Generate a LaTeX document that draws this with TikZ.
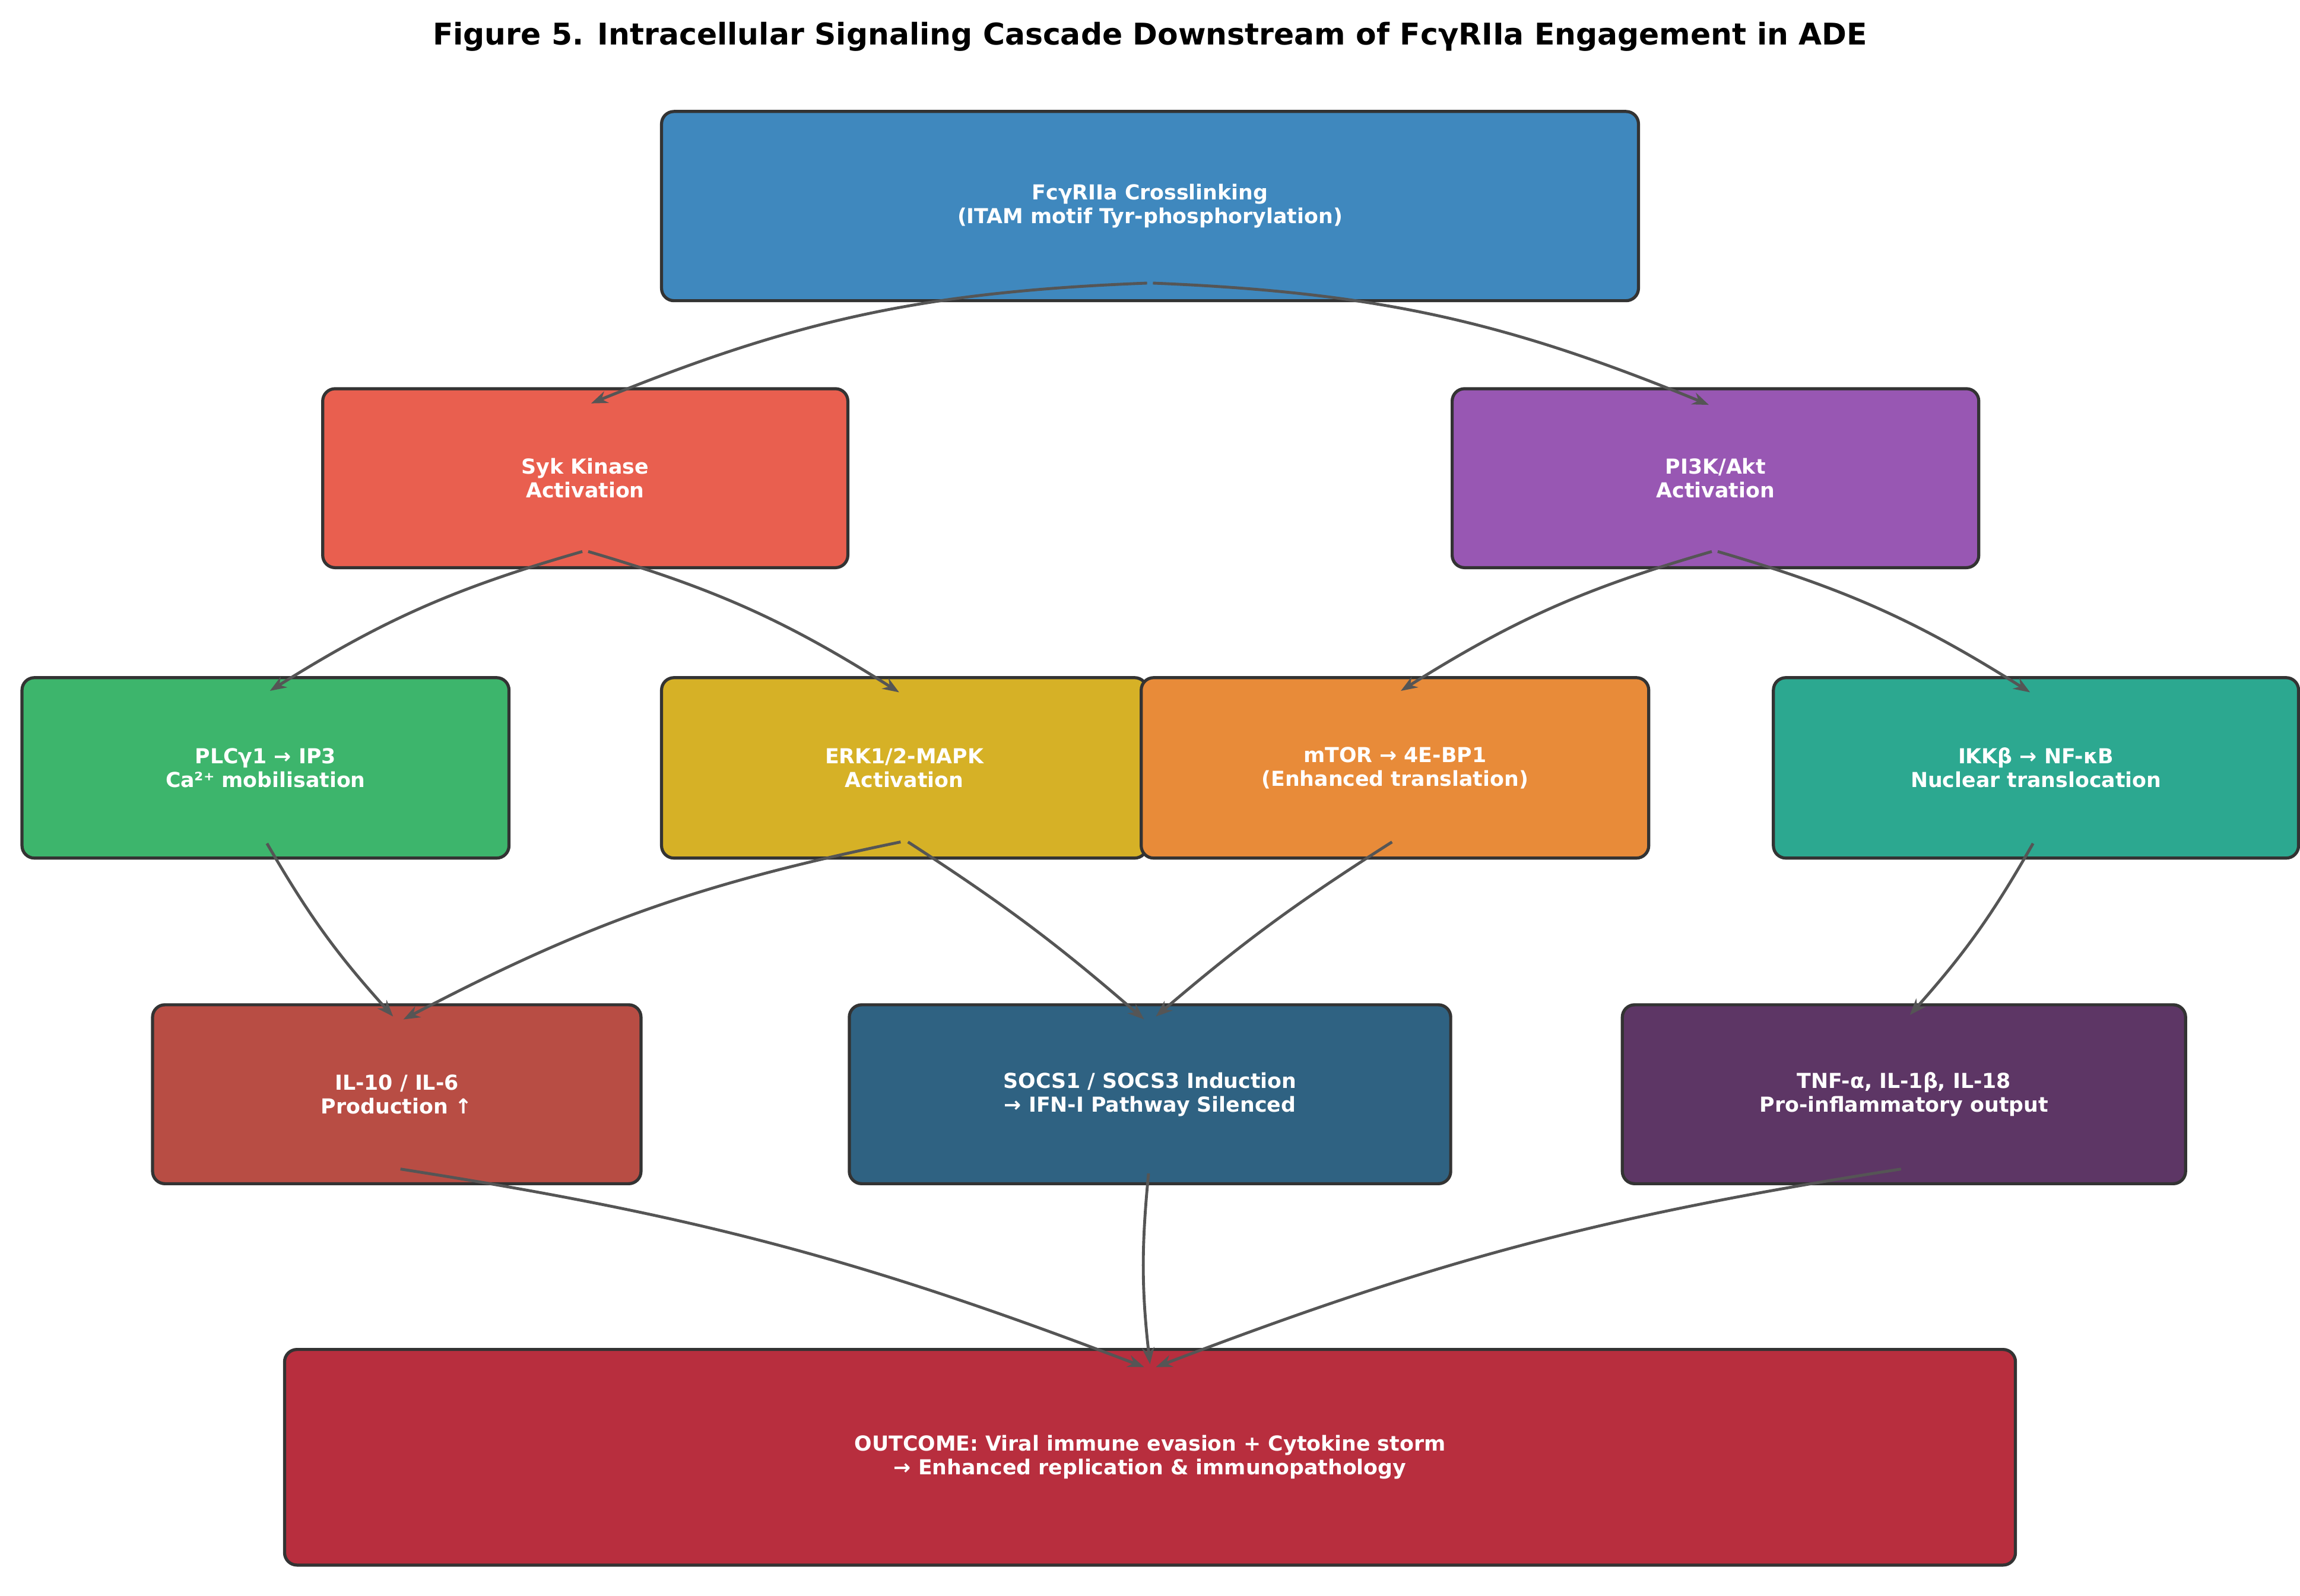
\documentclass[tikz,border=0pt]{standalone}
\usepackage{fontspec}
\setmainfont{DejaVu Sans}
\usetikzlibrary{arrows.meta}
\definecolor{cTop}{HTML}{3F88BE}\definecolor{cSyk}{HTML}{E95F4F}\definecolor{cPI}{HTML}{9857B3}
\definecolor{cPLC}{HTML}{3DB56C}\definecolor{cERK}{HTML}{D6B126}\definecolor{cMT}{HTML}{E88B39}
\definecolor{cIKK}{HTML}{2CA890}\definecolor{cIL}{HTML}{B84D44}\definecolor{cSO}{HTML}{2F6282}
\definecolor{cTNF}{HTML}{5D3665}\definecolor{cOut}{HTML}{B82E3E}\definecolor{bd}{HTML}{333333}
\definecolor{ar}{HTML}{555555}
\begin{document}
\begin{tikzpicture}[x=0.025cm,y=-0.025cm,
 box/.style={draw=bd,line width=1.5pt,rounded corners=6pt,text=white,align=center,
   font=\bfseries\fontsize{10}{11.5}\selectfont,inner sep=0pt},
 arr/.style={draw=ar,line width=1.4pt,-{Stealth[length=8pt,width=6pt]}}]
\useasboundingbox (0,0) rectangle (1568,1088);
\node[font=\bfseries\fontsize{14.5}{16}\selectfont] (title) at (784,25) {Figure 5. Intracellular Signaling Cascade Downstream of FcγRIIa Engagement in ADE};
\newcommand\bx[7]{\node[box,fill=#2,minimum width=#5*0.025cm,minimum height=#6*0.025cm] (#1) at (#3,#4) {#7};}
\bx{top}{cTop}{784}{140.5}{666}{129}{FcγRIIa Crosslinking\\(ITAM motif Tyr-phosphorylation)}
\bx{syk}{cSyk}{399}{326}{358}{122}{Syk Kinase\\Activation}
\bx{pi}{cPI}{1169.5}{326}{359}{122}{PI3K/Akt\\Activation}
\bx{plc}{cPLC}{181}{523.5}{332}{123}{PLCγ1 → IP3\\Ca²⁺ mobilisation}
\bx{erk}{cERK}{616.5}{523.5}{331}{123}{ERK1/2-MAPK\\Activation}
\bx{mt}{cMT}{951}{523.5}{346}{123}{mTOR → 4E-BP1\\(Enhanced translation)}
\bx{ikk}{cIKK}{1388}{523.5}{358}{123}{IKKβ → NF-κB\\Nuclear translocation}
\bx{il}{cIL}{270.5}{746}{333}{122}{IL-10 / IL-6\\Production ↑}
\bx{so}{cSO}{784}{746}{410}{122}{SOCS1 / SOCS3 Induction\\→ IFN-I Pathway Silenced}
\bx{tnf}{cTNF}{1298}{746}{384}{122}{TNF-α, IL-1β, IL-18\\Pro-inflammatory output}
\bx{out}{cOut}{784}{993.5}{1180}{147}{OUTCOME: Viral immune evasion + Cytokine storm\\→ Enhanced replication \& immunopathology}
\coordinate (a1) at (782,193); \coordinate (a2) at (786,193);
\coordinate (b1) at (397,376); \coordinate (b2) at (401,376);
\coordinate (c1) at (1167,376); \coordinate (c2) at (1171,376);
\coordinate (d1) at (182,575); \coordinate (e1) at (614,574); \coordinate (e2) at (619,574);
\coordinate (f1) at (949,574); \coordinate (g1) at (1386,575);
\coordinate (h1) at (273,797); \coordinate (i1) at (783,800); \coordinate (j1) at (1296,797);
\coordinate (tsyk) at (403,275); \coordinate (tpi) at (1165,276);
\coordinate (tplc) at (184,471); \coordinate (terk) at (613,472);
\coordinate (tmt) at (955,471); \coordinate (tikk) at (1384,472);
\coordinate (til1) at (268,693); \coordinate (til2) at (275,695);
\coordinate (tso1) at (780,695); \coordinate (tso2) at (788,693);
\coordinate (ttnf) at (1302,692);
\coordinate (to1) at (780,932); \coordinate (to2) at (784,930); \coordinate (to3) at (788,932);
\draw[arr] (a1) to[bend right=10] (tsyk);
\draw[arr] (a2) to[bend left=10] (tpi);
\draw[arr] (b1) to[bend right=8] (tplc);
\draw[arr] (b2) to[bend left=8] (terk);
\draw[arr] (c1) to[bend right=8] (tmt);
\draw[arr] (c2) to[bend left=8] (tikk);
\draw[arr] (d1) to[bend right=6] (til1);
\draw[arr] (e1) to[bend right=8] (til2);
\draw[arr] (e2) to[bend left=4] (tso1);
\draw[arr] (f1) to[bend right=4] (tso2);
\draw[arr] (g1) to[bend left=6] (ttnf);
\draw[arr] (h1) to[bend left=6] (to1);
\draw[arr] (i1) to[bend right=6] (to2);
\draw[arr] (j1) to[bend right=6] (to3);
\end{tikzpicture}
\end{document}
